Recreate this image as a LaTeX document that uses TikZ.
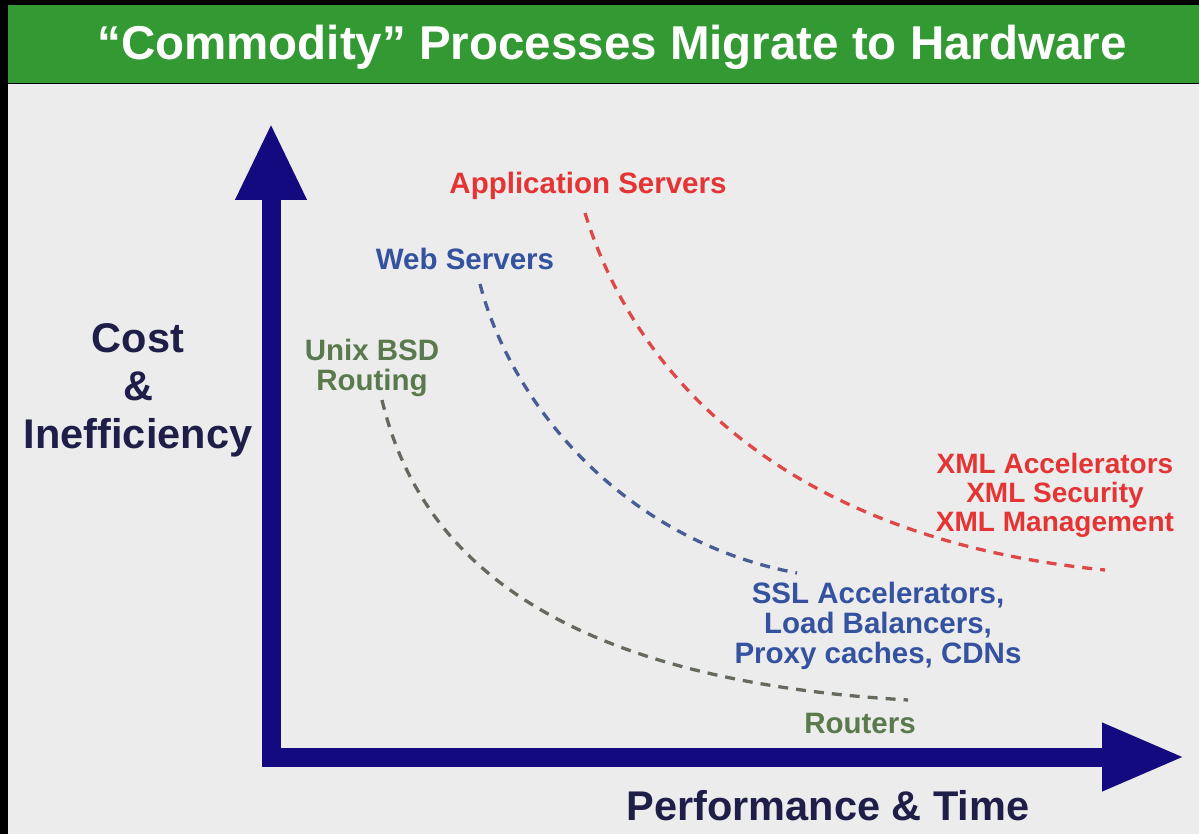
\documentclass[tikz,border=0pt]{standalone}
\usepackage{fontspec}
\setmainfont{Liberation Sans}
\usetikzlibrary{arrows.meta}
\definecolor{titlegreen}{RGB}{51,153,51}
\definecolor{bggray}{RGB}{236,236,236}
\definecolor{axisnavy}{RGB}{20,10,128}
\definecolor{axistext}{RGB}{30,30,72}
\definecolor{labred}{RGB}{228,52,52}
\definecolor{labblue}{RGB}{52,82,160}
\definecolor{labgreen}{RGB}{90,122,78}
\definecolor{dashred}{RGB}{222,72,72}
\definecolor{dashblue}{RGB}{72,92,150}
\definecolor{dashgreen}{RGB}{100,106,94}
\tikzset{
  titletext/.style={text=white, inner sep=0pt, font=\bfseries\fontsize{47.5}{47.5}\selectfont},
  axlabel/.style={text=axistext, inner sep=0pt, align=center, font=\bfseries\fontsize{41.5}{48}\selectfont},
  lab/.style={inner sep=0pt, align=center, font=\bfseries\fontsize{29.5}{30}\selectfont},
  axisline/.style={draw=axisnavy, line width=19pt, line join=miter},
  curve/.style={line width=3.3pt, dash pattern=on 10pt off 8pt},
}
\begin{document}
\begin{tikzpicture}[x=1pt,y=-1pt]
\useasboundingbox (0,0) rectangle (1199,834);
\fill[black] (0,0) rectangle (1199,834);
\fill[bggray] (8,84) rectangle (1199,834);
\fill[titlegreen] (8,5) rectangle (1199,83);
\node[titletext] (title) at (612,47) {“Commodity” Processes Migrate to Hardware};

% axes
\coordinate (ytop) at (271,123);
\coordinate (xend) at (1185,757);
\draw[axisline, {Triangle[length=77pt,width=66pt,fill=axisnavy]}-{Triangle[length=83pt,width=63pt,fill=axisnavy]}]
  (ytop) |- (xend);

\node[axlabel] (ylab) at (138,390) {Cost\\\&\\Inefficiency};
\node[axlabel] (xlab) at (828,806) {Performance \& Time};

% labels
\node[lab, text=labred] (app) at (588,186) {Application Servers};
\node[lab, text=labblue] (web) at (465,259) {Web Servers};
\node[lab, text=labgreen] (unix) at (372,368) {Unix BSD\\Routing};
\node[lab, text=labred, font=\bfseries\fontsize{28}{29}\selectfont] (xml) at (1055,495) {XML Accelerators\\XML Security\\XML Management};
\node[lab, text=labblue] (ssl) at (878,626) {SSL Accelerators,\\Load Balancers,\\Proxy caches, CDNs};
\node[lab, text=labgreen] (routers) at (860,723) {Routers};

% curves
\coordinate (appS) at (585,213);
\coordinate (appE) at (1105,570);
\coordinate (webS) at (480,284);
\coordinate (webE) at (797,573);
\coordinate (unixS) at (382,400);
\coordinate (unixE) at (908,700);
\draw[curve, draw=dashred] (appS) .. controls (640,390) and (800,540) .. (appE);
\draw[curve, draw=dashblue] (webS) .. controls (510,400) and (620,540) .. (webE);
\draw[curve, draw=dashgreen] (unixS) .. controls (420,560) and (560,680) .. (unixE);
\end{tikzpicture}
\end{document}
